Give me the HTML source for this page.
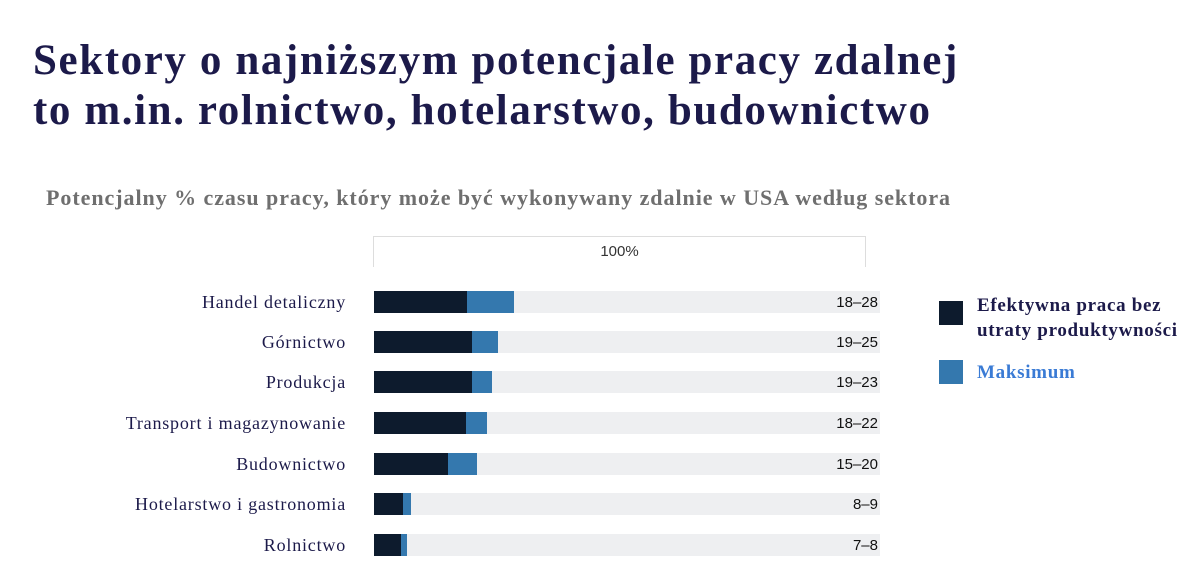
<!DOCTYPE html>
<html><head><meta charset="utf-8"><style>
body{margin:0;width:1200px;height:583px;background:#fff;position:relative;overflow:hidden;font-family:"Liberation Serif",serif}
.t{position:absolute;left:33px;top:36px;font-size:43px;font-weight:bold;color:#1c1a4a;line-height:50px;letter-spacing:1.6px;white-space:nowrap}
.s{position:absolute;left:46px;top:185px;font-size:22px;font-weight:bold;color:#6f6f6f;letter-spacing:0.95px;white-space:nowrap}
.br{position:absolute;left:373px;top:236px;width:491px;height:30px;border:1px solid #ddd;border-bottom:none}
.br span{position:absolute;left:0;right:0;top:6px;text-align:center;font:15px "Liberation Sans",sans-serif;color:#333}
.row{position:absolute;left:0;width:1200px;height:22px}
.lab{position:absolute;right:854px;top:0;font-size:18px;color:#1c1a4a;line-height:22px;white-space:nowrap;letter-spacing:0.8px}
.g{position:absolute;left:374px;width:506px;height:22px;background:#eeeff1;top:0}
.d{position:absolute;left:374px;height:22px;background:#0d1b2d;top:0}
.b{position:absolute;height:22px;background:#3478ae;top:0}
.v{position:absolute;right:322px;top:3px;font:15px "Liberation Sans",sans-serif;color:#111}
.lg{position:absolute;font-weight:bold;font-size:19px;line-height:25px;letter-spacing:0.7px;white-space:nowrap}
.sq{position:absolute;width:24px;height:24px}
</style></head><body>
<div class="t">Sektory o najniższym potencjale pracy zdalnej<br>to m.in. rolnictwo, hotelarstwo, budownictwo</div>
<div class="s">Potencjalny % czasu pracy, który może być wykonywany zdalnie w USA według sektora</div>
<div class="br"><span>100%</span></div>

<div class="row" style="top:291px"><div class="lab">Handel detaliczny</div><div class="g"></div><div class="d" style="width:93px"></div><div class="b" style="left:467px;width:47px"></div><div class="v">18–28</div></div>
<div class="row" style="top:331px"><div class="lab">Górnictwo</div><div class="g"></div><div class="d" style="width:98px"></div><div class="b" style="left:472px;width:26px"></div><div class="v">19–25</div></div>
<div class="row" style="top:371px"><div class="lab">Produkcja</div><div class="g"></div><div class="d" style="width:98px"></div><div class="b" style="left:472px;width:20px"></div><div class="v">19–23</div></div>
<div class="row" style="top:412px"><div class="lab">Transport i magazynowanie</div><div class="g"></div><div class="d" style="width:92px"></div><div class="b" style="left:466px;width:21px"></div><div class="v">18–22</div></div>
<div class="row" style="top:453px"><div class="lab">Budownictwo</div><div class="g"></div><div class="d" style="width:74px"></div><div class="b" style="left:448px;width:29px"></div><div class="v">15–20</div></div>
<div class="row" style="top:493px"><div class="lab">Hotelarstwo i gastronomia</div><div class="g"></div><div class="d" style="width:29px"></div><div class="b" style="left:403px;width:8px"></div><div class="v">8–9</div></div>
<div class="row" style="top:534px"><div class="lab">Rolnictwo</div><div class="g"></div><div class="d" style="width:27px"></div><div class="b" style="left:401px;width:6px"></div><div class="v">7–8</div></div>

<div class="sq" style="left:939px;top:301px;background:#0d1b2d"></div>
<div class="lg" style="left:977px;top:293px;color:#1c1a4a">Efektywna praca bez<br>utraty produktywności</div>
<div class="sq" style="left:939px;top:360px;background:#3478ae"></div>
<div class="lg" style="left:977px;top:360px;color:#3a7bd5">Maksimum</div>
</body></html>
